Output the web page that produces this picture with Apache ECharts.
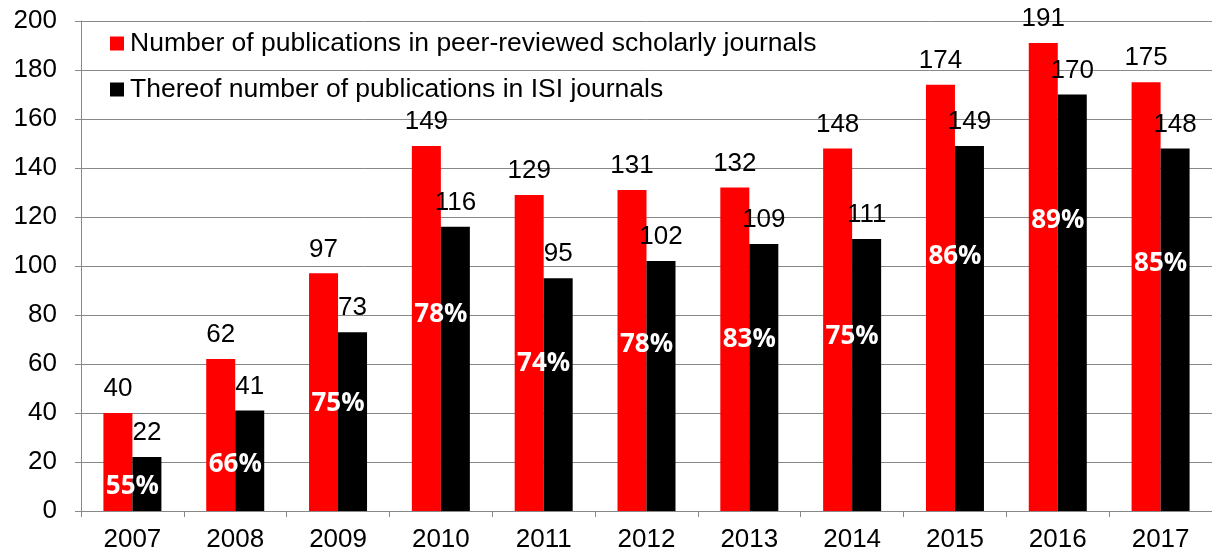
<!DOCTYPE html>
<html><head><meta charset="utf-8">
<script src="https://cdn.jsdelivr.net/npm/echarts@6/dist/echarts.min.js"></script>
<style>html,body{margin:0;padding:0;background:#fff}#c{width:1212px;height:555px}</style>
</head><body><div id="c"></div>
<script>
const years = ['2007','2008','2009','2010','2011','2012','2013','2014','2015','2016','2017'];
const peerReviewed = [40,62,97,149,129,131,132,148,174,191,175];
const isiJournals = [22,41,73,116,95,102,109,111,149,170,148];
const pctLabels = ['55%','66%','75%','78%','74%','78%','83%','75%','86%','89%','85%'];
const pctLabelY = [10,19,44,80,60,68,70,71,104,118.5,101];
const yTicks = [0,20,40,60,80,100,120,140,160,180,200];

const font = 'Liberation Sans, Arial, sans-serif';
const chart = echarts.init(document.getElementById('c'));
chart.setOption({
  animation: false,
  grid: {left: 81, right: 0, top: 21, bottom: 44, containLabel: false},
  legend: {
    orient: 'vertical', left: 105, top: 25, itemWidth: 14, itemHeight: 14, itemGap: 19, icon: 'rect',
    textStyle: {fontFamily: font, fontSize: 26.5, color: '#000', padding: [0,0,0,1]},
    data: ['Number of publications in peer-reviewed scholarly journals','Thereof number of publications in ISI journals']
  },
  xAxis: {
    type: 'category', data: years, boundaryGap: true,
    axisLine: {lineStyle: {color: '#888', width: 1}},
    axisTick: {show: true, length: 6, lineStyle: {color: '#888'}},
    axisLabel: {fontFamily: font, fontSize: 26, color: '#000', margin: 16}
  },
  yAxis: {
    type: 'value', min: yTicks[0], max: yTicks[yTicks.length-1], interval: 20,
    axisLine: {show: true, lineStyle: {color: '#888', width: 1}},
    axisTick: {show: true, length: 6, lineStyle: {color: '#888'}},
    splitLine: {lineStyle: {color: '#888', width: 1}},
    axisLabel: {fontFamily: font, fontSize: 26, color: '#000', margin: 24}
  },
  series: [
    {
      name: 'Number of publications in peer-reviewed scholarly journals', type: 'bar',
      data: peerReviewed, barWidth: 29, barGap: '0%',
      itemStyle: {color: '#ff0000'},
      label: {show: true, position: 'top', distance: 11, fontFamily: font, fontSize: 26, color: '#000'}
    },
    {
      name: 'Thereof number of publications in ISI journals', type: 'bar',
      data: isiJournals, barWidth: 29, barGap: '0%',
      itemStyle: {color: '#000000'},
      label: {show: true, position: 'top', distance: 11, fontFamily: font, fontSize: 26, color: '#000'}
    },
    {
      type: 'scatter', symbolSize: 0, silent: true, z: 10,
      itemStyle: {color: '#fff'},
      data: pctLabelY.map((v,i) => ({value: v, label: {formatter: pctLabels[i]}})),
      label: {show: true, position: 'inside', fontFamily: 'Open Sans, Noto Sans, sans-serif', fontWeight: 'bold', fontSize: 26, color: '#ffffff', textBorderWidth: 0, opacity: 1}
    }
  ]
});
</script></body></html>
